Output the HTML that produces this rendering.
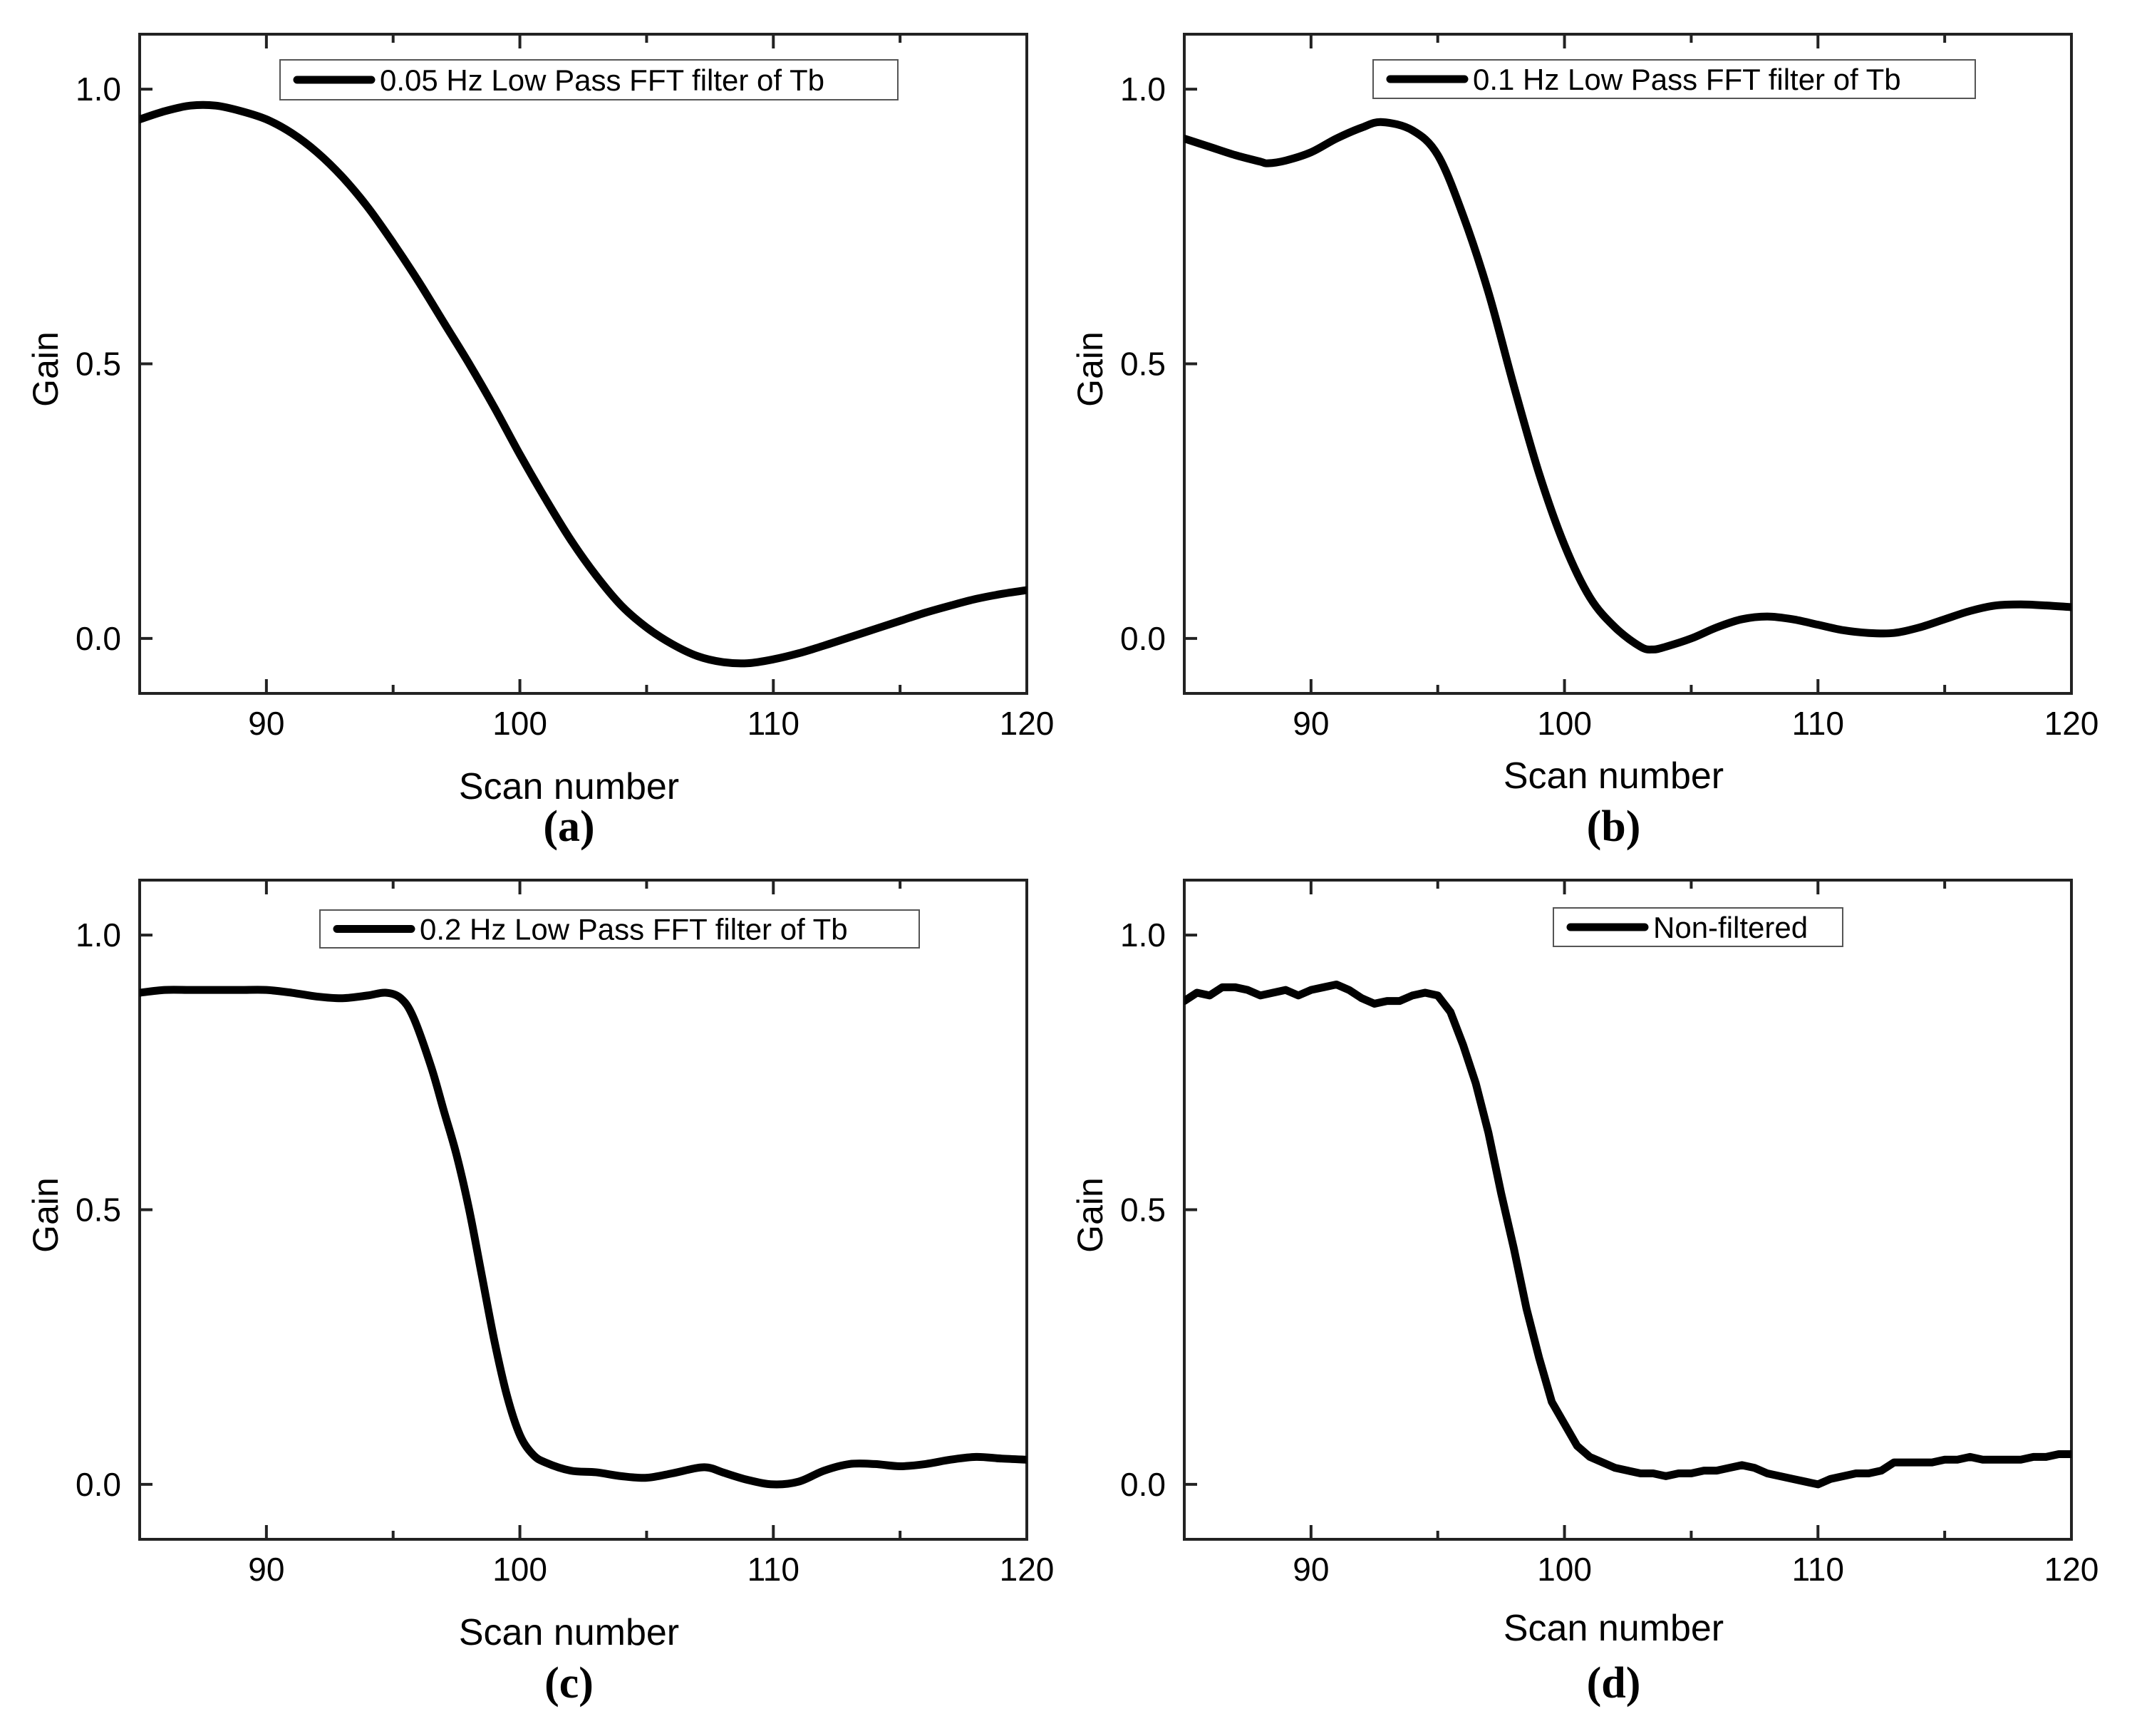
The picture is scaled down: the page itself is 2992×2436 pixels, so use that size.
<!DOCTYPE html>
<html><head><meta charset="utf-8">
<style>
html,body{margin:0;padding:0;background:#fff;}
svg{display:block;}
text{font-family:"Liberation Sans",Arial,sans-serif;fill:#000;}
.sub{font-family:"Liberation Serif",serif;font-weight:bold;}
</style></head>
<body>
<svg id="fig" width="2992" height="2436" viewBox="0 0 2992 2436" xmlns="http://www.w3.org/2000/svg"></svg>
<script>
const xTicks = [90, 100, 110, 120];
const yTicks = [0.0, 0.5, 1.0];
const yTickLabels = ["0.0", "0.5", "1.0"];
const panelLabels = ["(a)", "(b)", "(c)", "(d)"];
const legendLabels = ["0.05 Hz Low Pass FFT filter of Tb", "0.1 Hz Low Pass FFT filter of Tb", "0.2 Hz Low Pass FFT filter of Tb", "Non-filtered"];

const xA = [85,86,87,88,89,90,91,92,93,94,95,96,97,98,99,100,101,102,103,104,105,106,107,108,109,110,111,112,113,114,115,116,117,118,119,120];
const yA = [0.945,0.96,0.97,0.97,0.96,0.945,0.92,0.885,0.84,0.785,0.72,0.65,0.575,0.5,0.42,0.335,0.255,0.18,0.115,0.06,0.02,-0.01,-0.032,-0.043,-0.045,-0.038,-0.027,-0.013,0.002,0.017,0.032,0.047,0.06,0.072,0.081,0.088];

const xB = [85,86,87,88,88.3,89,90,91,92,92.8,94,95,96,97,98,99,100,101,102,103,103.5,104,105,106,107,108,109,110,111,112,113,114,115,116,117,118,119,120];
const yB = [0.91,0.895,0.88,0.868,0.865,0.87,0.885,0.91,0.93,0.94,0.925,0.88,0.77,0.63,0.46,0.30,0.17,0.075,0.02,-0.015,-0.02,-0.015,0.0,0.02,0.035,0.04,0.035,0.025,0.015,0.01,0.01,0.02,0.035,0.05,0.06,0.062,0.06,0.057];

const xC = [85,86,87,88,89,90,91,92,93,94,94.7,95.3,95.8,96.5,97,97.5,98,98.5,99,99.5,100,100.5,101,102,103,104,105,106,107,107.5,108,109,110,111,112,113,114,115,116,117,118,119,120];
const yC = [0.895,0.9,0.9,0.9,0.9,0.9,0.895,0.888,0.885,0.89,0.895,0.885,0.85,0.76,0.68,0.60,0.50,0.38,0.26,0.16,0.09,0.055,0.04,0.025,0.022,0.015,0.012,0.02,0.03,0.03,0.022,0.008,0.0,0.005,0.025,0.037,0.037,0.033,0.037,0.045,0.05,0.047,0.045];

const xD = [85,85.5,86,86.5,87,87.5,88,88.5,89,89.5,90,90.5,91,91.5,92,92.5,93,93.5,94,94.5,95,95.5,96,96.5,97,97.5,98,98.5,99,99.5,100,100.5,101,101.5,102,102.5,103,103.5,104,104.5,105,105.5,106,106.5,107,107.5,108,108.5,109,109.5,110,110.5,111,111.5,112,112.5,113,113.5,114,114.5,115,115.5,116,116.5,117,117.5,118,118.5,119,119.5,120];
const yD = [0.88,0.895,0.89,0.905,0.905,0.9,0.89,0.895,0.9,0.89,0.9,0.905,0.91,0.9,0.885,0.875,0.88,0.88,0.89,0.895,0.89,0.86,0.80,0.73,0.64,0.53,0.43,0.32,0.23,0.15,0.11,0.07,0.05,0.04,0.03,0.025,0.02,0.02,0.015,0.02,0.02,0.025,0.025,0.03,0.035,0.03,0.02,0.015,0.01,0.005,0.0,0.01,0.015,0.02,0.02,0.025,0.04,0.04,0.04,0.04,0.045,0.045,0.05,0.045,0.045,0.045,0.045,0.05,0.05,0.055,0.055];

const NS = "http://www.w3.org/2000/svg";
const svg = document.getElementById('fig');
function mk(tag, attrs, parent){const e=document.createElementNS(NS,tag);for(const k in attrs)e.setAttribute(k,attrs[k]);(parent||svg).appendChild(e);return e;}

const W = 1245, H = 925;
const panels = [
  {ox:196, oy:48, xs:xA, ys:yA, smooth:true, leg:[393,84,867,56], scanY:1121, subY:1180},
  {ox:1662, oy:48, xs:xB, ys:yB, smooth:true, leg:[1927,84,845,54], scanY:1106, subY:1180},
  {ox:196, oy:1235, xs:xC, ys:yC, smooth:true, leg:[449,1277,841,53], scanY:2308, subY:2382},
  {ox:1662, oy:1235, xs:xD, ys:yD, smooth:false, leg:[2180,1274,406,54], scanY:2302, subY:2382}
];

panels.forEach((p, i) => {
  const g = mk('g', {});
  
  
  const X = v => p.ox + (v - 85) / 35 * W;
  const Y = v => p.oy + (1.1 - v) / 1.2 * H;
  const frame = mk('rect', {x:p.ox, y:p.oy, width:W, height:H, fill:'none', stroke:'#222', 'stroke-width':4}, g);
  
  
  for (let v = 85; v <= 120; v += 5) {
    const major = v % 10 === 0;
    const len = major ? 20 : 12;
    mk('line', {x1:X(v), x2:X(v), y1:p.oy+H, y2:p.oy+H-len, stroke:'#222', 'stroke-width':4}, g);
    mk('line', {x1:X(v), x2:X(v), y1:p.oy, y2:p.oy+len, stroke:'#222', 'stroke-width':4}, g);
  }
  xTicks.forEach(v => {
    const t = mk('text', {x:X(v), y:p.oy+H+58, 'font-size':46, 'text-anchor':'middle'}, g);
    t.textContent = v;
    
    
  });
  yTicks.forEach((v, k) => {
    mk('line', {x1:p.ox, x2:p.ox+18, y1:Y(v), y2:Y(v), stroke:'#222', 'stroke-width':4}, g);
    const t = mk('text', {x:p.ox-26, y:Y(v)+16, 'font-size':46, 'text-anchor':'end'}, g);
    t.textContent = yTickLabels[k];
    
    
  });
  const gy = p.oy + 470;
  const gl = mk('text', {x:0, y:0, 'font-size':50, 'text-anchor':'middle', transform:`translate(${p.ox-115},${gy}) rotate(-90)`}, g);
  gl.textContent = 'Gain';
  
  
  const sl = mk('text', {x:p.ox+W/2-20, y:p.scanY, 'font-size':52, 'text-anchor':'middle'}, g);
  sl.textContent = 'Scan number';
  
  
  const pl = mk('text', {x:p.ox+W/2-20, y:p.subY, 'font-size':62, 'text-anchor':'middle', class:'sub'}, g);
  pl.textContent = panelLabels[i];
  
  
  const pts = p.xs.map((x, k) => [X(x), Y(p.ys[k])]);
  let d = 'M' + pts[0][0] + ',' + pts[0][1];
  if (p.smooth) {
    for (let k = 0; k < pts.length - 1; k++) {
      const p0 = pts[Math.max(0,k-1)], p1 = pts[k], p2 = pts[k+1], p3 = pts[Math.min(pts.length-1,k+2)];
      const c1 = [p1[0]+(p2[0]-p0[0])/6, p1[1]+(p2[1]-p0[1])/6];
      const c2 = [p2[0]-(p3[0]-p1[0])/6, p2[1]-(p3[1]-p1[1])/6];
      d += ` C${c1[0]},${c1[1]} ${c2[0]},${c2[1]} ${p2[0]},${p2[1]}`;
    }
  } else {
    for (let k = 1; k < pts.length; k++) d += ` L${pts[k][0]},${pts[k][1]}`;
  }
  const clip = mk('clipPath', {id:'clip'+i}, g);
  mk('rect', {x:p.ox, y:p.oy, width:W, height:H}, clip);
  const path = mk('path', {d:d, fill:'none', stroke:'#000', 'stroke-width':11, 'stroke-linejoin':'round', 'stroke-linecap':'round', 'clip-path':`url(#clip${i})`}, g);
  
  
  const [lx, ly, lw, lh] = p.leg;
  const lg = mk('g', {}, g);
  
  
  mk('rect', {x:lx, y:ly, width:lw, height:lh, fill:'#fff', stroke:'#555', 'stroke-width':2}, lg);
  mk('line', {x1:lx+24, x2:lx+128, y1:ly+lh/2, y2:ly+lh/2, stroke:'#000', 'stroke-width':11, 'stroke-linecap':'round'}, lg);
  const lt = mk('text', {x:lx+140, y:ly+lh/2+15, 'font-size':42}, lg);
  lt.textContent = legendLabels[i];
  
  
});
</script>
</body></html>
